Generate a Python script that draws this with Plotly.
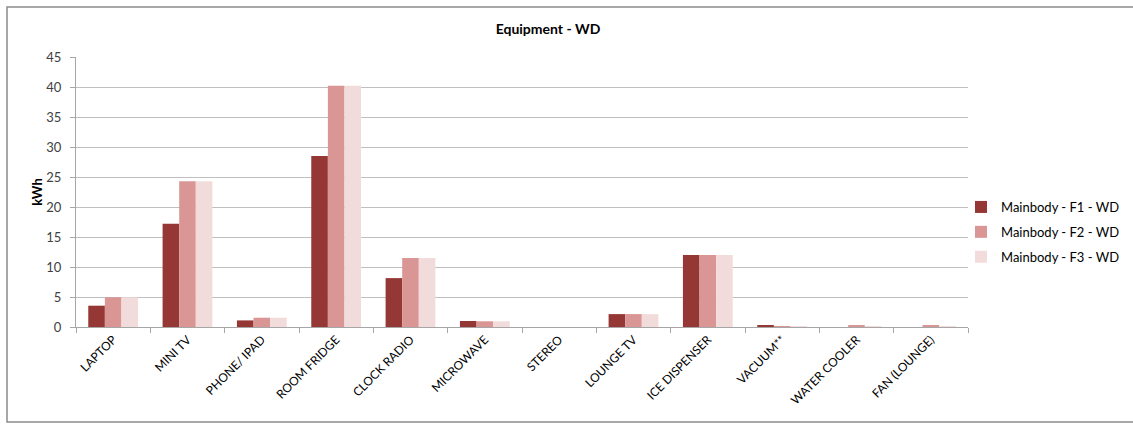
import plotly.graph_objects as go

# Weekday equipment energy use by floor
categories = ["LAPTOP", "MINI TV", "PHONE/ IPAD", "ROOM FRIDGE", "CLOCK RADIO",
              "MICROWAVE", "STEREO", "LOUNGE TV", "ICE DISPENSER", "VACUUM**",
              "WATER COOLER", "FAN (LOUNGE)"]
f1_wd = [3.55, 17.2, 1.1, 28.5, 8.15, 1.0, 0, 2.15, 12.0, 0.2, 0, 0]
f2_wd = [4.95, 24.3, 1.55, 40.2, 11.5, 0.95, 0, 2.15, 12.0, 0.15, 0.3, 0.3]
f3_wd = [4.95, 24.3, 1.55, 40.2, 11.5, 0.95, 0, 2.15, 12.0, 0.1, 0.15, 0.15]
series_names = ["Mainbody - F1 - WD", "Mainbody - F2 - WD", "Mainbody - F3 - WD"]
series_colors = ["#953735", "#D99694", "#F2DCDB"]
y_ticks = [0, 5, 10, 15, 20, 25, 30, 35, 40, 45]

W, H = 1133, 424
L, R, T, B = 76, 165, 57, 97
pw, ph = W - L - R, H - T - B

def px_x(p):
    return (p - L) / pw

def px_y(p):
    return (H - B - p) / ph

FONT = "Lato, 'Open Sans', Arial, sans-serif"

fig = go.Figure()
for i, (name, vals, col) in enumerate(zip(series_names, [f1_wd, f2_wd, f3_wd], series_colors)):
    fig.add_trace(go.Bar(
        x=categories, y=vals, name=name, marker_color=col,
        marker_line_width=0, legendgroup=f"g{i}",
    ))

fig.update_layout(
    width=W, height=H,
    margin=dict(l=L, r=R, t=T, b=B, autoexpand=False),
    paper_bgcolor="white", plot_bgcolor="white",
    barmode="group", bargap=0.33, bargroupgap=0,
    font=dict(family=FONT, size=12, color="#000000"),
    title=dict(text="<b>Equipment - WD</b>", x=px_x(548), xref="paper",
               xanchor="center", y=1 - 29 / H, yanchor="middle",
               font=dict(family=FONT, size=14, color="#000000")),
    showlegend=True,
    legend=dict(xref="container", yref="container",
                x=961 / W, y=1 - 192 / H, xanchor="left", yanchor="top",
                font=dict(family=FONT, size=13, color="#000000"),
                tracegroupgap=5, itemwidth=30, bgcolor="rgba(0,0,0,0)"),
    xaxis=dict(
        type="category", tickangle=-45, tickson="boundaries",
        ticks="outside", ticklen=5, tickcolor="#A6A6A6",
        showline=True, linecolor="#A6A6A6", linewidth=1,
        showgrid=False, tickfont=dict(family=FONT, size=12, color="#000000"),
    ),
    yaxis=dict(
        range=[0, 45], tickvals=y_ticks, ticks="outside", ticklen=5,
        tickcolor="#A6A6A6", showline=True, linecolor="#A6A6A6", linewidth=1,
        showgrid=True, gridcolor="#BFBFBF", gridwidth=1, zeroline=False,
        ticklabelstandoff=6,
        tickfont=dict(family=FONT, size=13, color="#404040"),
        title=dict(text="<b>kWh</b>", standoff=0,
                   font=dict(family=FONT, size=13, color="#000000")),
    ),
    shapes=[dict(type="rect", xref="paper", yref="paper",
                 x0=px_x(7), x1=px_x(1140), y0=px_y(422), y1=px_y(7),
                 line=dict(color="#8C8C8C", width=1.5), layer="below")],
)

fig.write_html("out.html")
